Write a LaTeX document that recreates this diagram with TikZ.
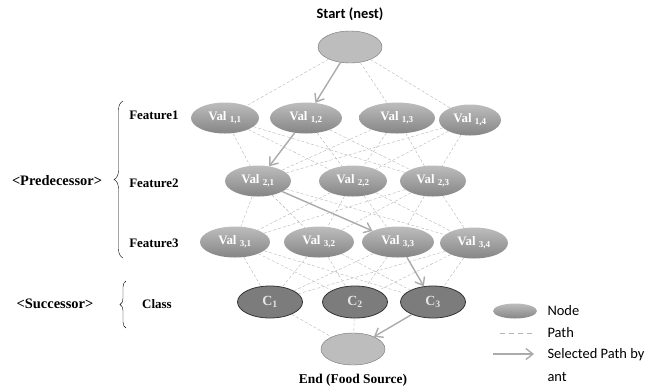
\documentclass[tikz,border=0pt]{standalone}
\usepackage{fontspec}
\setmainfont{Liberation Serif}
\newfontfamily\legendfont{Carlito}
\usetikzlibrary{positioning, shapes, arrows.meta, decorations.pathreplacing}
\definecolor{valtop}{HTML}{BDBDBD}
\definecolor{valbot}{HTML}{858585}
\definecolor{classfill}{HTML}{7C7C7C}
\definecolor{pathgray}{HTML}{B5B5B5}
\definecolor{antgray}{HTML}{ABABAB}

\begin{document}
\begin{tikzpicture}[x=1bp, y=-1bp,
valnode/.style={
  ellipse, inner sep=0pt,
  minimum height=31bp,
  top color=valtop, bottom color=valbot,
  text=white,
  font=\fontsize{13}{15}\selectfont\bfseries
},
classnode/.style={
  ellipse, inner sep=0pt,
  minimum width=65bp, minimum height=32bp,
  fill=classfill, draw=black!80, thick,
  text=white!90!black,
  font=\fontsize{14}{16}\selectfont\bfseries
},
endnode/.style={
  ellipse, inner sep=0pt,
  minimum width=64bp, minimum height=32bp,
  fill=valtop, draw=black!55
},
lbl/.style={font=\fontsize{13}{15}\selectfont\bfseries},
legend/.style={anchor=west, font=\legendfont\fontsize{14.5}{16}\selectfont},
trail/.style={draw=pathgray, dashed, dash pattern=on 3bp off 2bp, thin},
antpath/.style={draw=antgray, line width=1.4bp, -{Straight Barb[length=7bp, width=11bp]}}
]
\useasboundingbox (0,0) rectangle (648,391);

% start and end
\node (start) [endnode] at (350,47) {};
\node [font=\legendfont\fontsize{14.5}{16}\selectfont\bfseries] at (350,14) {Start (nest)};
\node (foodsrc) [endnode] at (353,349) {};
\node [lbl, font=\fontsize{13.5}{15}\selectfont\bfseries] at (353,380) {End (Food Source)};

% feature 1
\node (v11) [valnode, minimum width=68bp] at (225,118) {Val \textsubscript{1,1}};
\node (v12) [valnode, minimum width=72bp] at (306,118) {Val \textsubscript{1,2}};
\node (v13) [valnode, minimum width=76bp] at (397,118) {Val \textsubscript{1,3}};
\node (v14) [valnode, minimum width=62bp] at (470,120) {Val \textsubscript{1,4}};

% feature 2
\node (v21) [valnode, minimum width=66bp] at (258,181) {Val \textsubscript{2,1}};
\node (v22) [valnode, minimum width=68bp] at (353,181) {Val \textsubscript{2,2}};
\node (v23) [valnode, minimum width=66bp] at (433,181) {Val \textsubscript{2,3}};

% feature 3
\node (v31) [valnode, minimum width=70bp] at (235,242) {Val \textsubscript{3,1}};
\node (v32) [valnode, minimum width=70bp] at (319,242) {Val \textsubscript{3,2}};
\node (v33) [valnode, minimum width=72bp] at (398,242) {Val \textsubscript{3,3}};
\node (v34) [valnode, minimum width=68bp] at (474,243) {Val \textsubscript{3,4}};

% class
\node (c1) [classnode] at (270,302) {C\textsubscript{1}};
\node (c2) [classnode] at (355,302) {C\textsubscript{2}};
\node (c3) [classnode] at (433,302) {C\textsubscript{3}};

% paths
\foreach \b in {v11,v13,v14}
  \draw [trail] (start) -- (\b);
\foreach \a in {v11,v12,v13,v14}
  \foreach \b in {v21,v22,v23}
    \draw [trail] (\a) -- (\b);
\foreach \a in {v21,v22,v23}
  \foreach \b in {v31,v32,v33,v34}
    \draw [trail] (\a) -- (\b);
\foreach \a in {v31,v32,v33,v34}
  \foreach \b in {c1,c2,c3}
    \draw [trail] (\a) -- (\b);
\foreach \a in {c1,c2}
  \draw [trail] (\a) -- (foodsrc);

% selected path by ant
\draw [antpath] (start) -- (v12);
\draw [antpath] (v12) -- (v21);
\draw [antpath] (v21) -- (v33);
\draw [antpath] (v33) -- (c3);
\draw [antpath] (c3) -- (foodsrc);

% left labels
\node (f1) [lbl] at (154,115) {Feature1};
\node (f2) [lbl] at (154,183) {Feature2};
\node (f3) [lbl] at (154,243) {Feature3};
\node (cls) [lbl] at (157,304) {Class};
\draw [decorate, decoration={brace, amplitude=9bp}, thin] (123,258) -- (123,101);
\draw [decorate, decoration={brace, amplitude=6bp}, thin] (126,328) -- (126,281);
\node (pred) [lbl, font=\fontsize{14.5}{16}\selectfont\bfseries] at (57,181) {<Predecessor>};
\node (succ) [lbl, font=\fontsize{14.5}{16}\selectfont\bfseries] at (55,304) {<Successor>};

% legend
\node (lgnode) [valnode, minimum width=44bp, minimum height=15bp] at (515,311) {};
\node [legend] at (544,311) {Node};
\coordinate (pa) at (500,333);
\coordinate (pb) at (534,333);
\draw [trail, dash pattern=on 5bp off 4bp, semithick] (pa) -- (pb);
\node [legend] at (544,333) {Path};
\coordinate (aa) at (493,354);
\coordinate (ab) at (534,354);
\draw [antpath] (aa) -- (ab);
\node [legend] at (544,355) {Selected Path by};
\node [legend] at (544,377) {ant};
\end{tikzpicture}
\end{document}
